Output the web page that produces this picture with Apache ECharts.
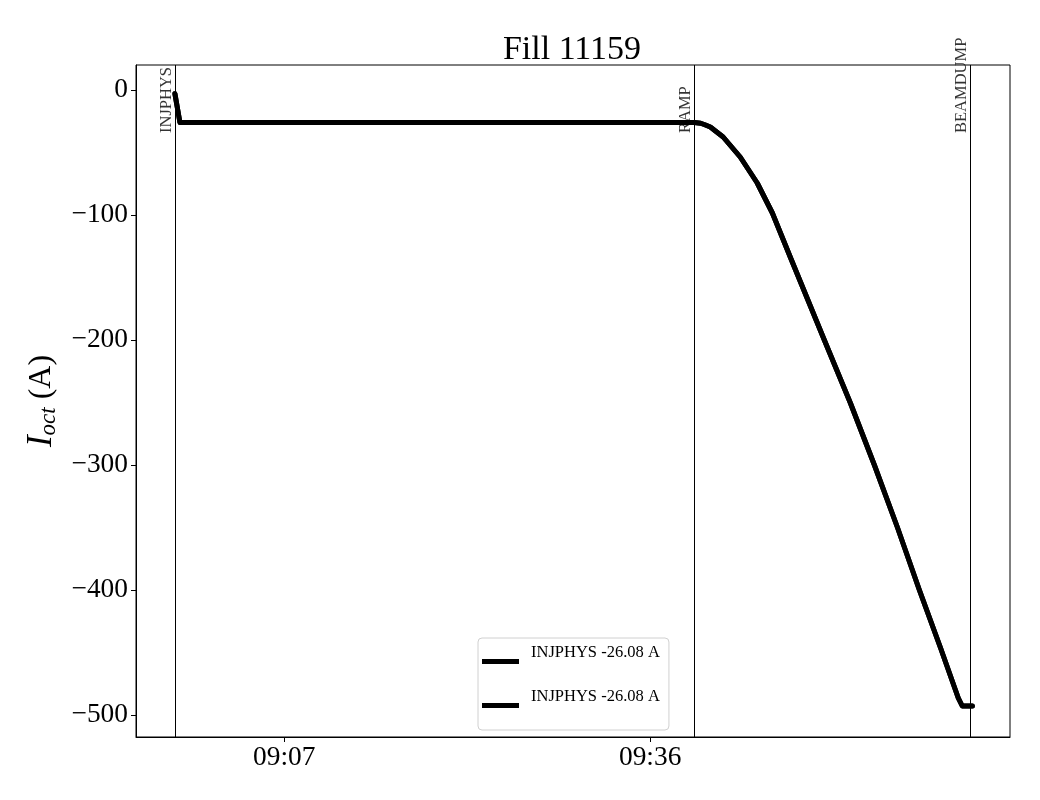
<!DOCTYPE html>
<html>
<head>
<meta charset="utf-8">
<script src="https://cdn.jsdelivr.net/npm/echarts@6/dist/echarts.min.js"></script>
<style>html,body{margin:0;padding:0;background:#fff}#c{width:1040px;height:800px}</style>
</head>
<body>
<div id="c"></div>
<script>
// ---- data ----
const times = ['08:58:20','08:58:44','09:39:29','09:40:00','09:40:20','09:40:46','09:41:47','09:43:08','09:44:29','09:45:41','09:47:06','09:49:48','09:51:52','09:53:46','09:55:35','09:57:20','09:59:00','10:00:25','10:00:44','10:01:32'];
const values = [-3,-26.08,-26.08,-26.6,-27.8,-29.6,-37.6,-53.6,-74.4,-98.4,-133.6,-200,-250.4,-300,-349.6,-400,-446,-486.4,-492.8,-492.8];
const seriesNames = ['INJPHYS -26.08 A', 'INJPHYS -26.08 A '];
const eventNames = ['INJPHYS','RAMP','BEAMDUMP'];
const eventTimes = ['08:58:20','09:39:29','10:01:23'];
const xTickTimes = ['09:07','09:36'];
const yTicks = [0,-100,-200,-300,-400,-500];
const xRange = ['08:55:15','10:04:31'];
const yRange = [-517.6, 20];
const titleText = 'Fill 11159';

// seconds since midnight
function ts(t){
  const p = t.split(':').map(Number);
  return p[0]*3600 + p[1]*60 + (p[2]||0);
}
const pts = times.map((t,i)=>[ts(t), values[i]]);
const FONT = '"Liberation Serif", "DejaVu Serif", serif';
const pad2 = n => (n<10?'0':'')+n;

const chart = echarts.init(document.getElementById('c'), null, {renderer:'canvas'});
const option = {
  animation: false,
  backgroundColor: '#fff',
  title: {
    text: titleText, left: 567, top: 28, textAlign: 'center',
    textStyle: {fontFamily: FONT, fontSize: 34, fontWeight: 'normal', color: '#000'}
  },
  grid: {left: 136, right: 30, top: 65, bottom: 63, show: true, borderColor: '#000', borderWidth: 1, backgroundColor: 'transparent'},
  legend: {
    data: seriesNames,
    left: 478, top: 638,
    orient: 'vertical',
    icon: 'rect',
    itemWidth: 37, itemHeight: 5, itemGap: 24,
    padding: [6, 5, 22, 4],
    backgroundColor: '#fff', borderColor: '#d0d0d0', borderWidth: 1, borderRadius: 4,
    formatter: n => '{a|' + n + '}',
    textStyle: {
      fontFamily: FONT, fontSize: 16.5, color: '#000',
      rich: {a: {fontFamily: FONT, fontSize: 16.5, color: '#000', padding: [0, 0, 18, 7]}}
    },
    itemStyle: {color: '#000'}
  },
  xAxis: {
    type: 'value',
    min: ts(xRange[0]), max: ts(xRange[1]),
    splitLine: {show: false},
    axisLine: {show: true, onZero: false, lineStyle: {color: '#000', width: 1}},
    axisTick: {show: true, inside: false, length: 5, lineStyle: {color: '#000'}, customValues: xTickTimes.map(t=>ts(t))},
    axisLabel: {
      fontFamily: FONT, fontSize: 27.4, color: '#000', margin: 7,
      customValues: xTickTimes.map(t=>ts(t)),
      formatter: v => pad2(Math.floor(v/3600)) + ':' + pad2(Math.floor((v%3600)/60))
    }
  },
  yAxis: {
    type: 'value',
    min: yRange[0], max: yRange[1],
    splitLine: {show: false},
    axisLine: {show: true, onZero: false, lineStyle: {color: '#000', width: 1}},
    axisTick: {show: true, inside: false, length: 5, lineStyle: {color: '#000'}, customValues: yTicks},
    axisLabel: {
      fontFamily: FONT, fontSize: 27.4, color: '#000', margin: 8,
      customValues: yTicks,
      formatter: v => v < 0 ? '\u2212' + Math.abs(v) : String(v)
    },
    name: '{i|I}{sub|oct}{n| (A)}',
    nameLocation: 'middle',
    nameGap: 74,
    nameRotate: 90,
    nameTextStyle: {
      fontFamily: FONT, color: '#000', fontSize: 32,
      rich: {
        i: {fontFamily: FONT, fontStyle: 'italic', fontSize: 35, color: '#000'},
        sub: {fontFamily: FONT, fontStyle: 'italic', fontSize: 23, color: '#000', padding: [14, 0, 0, 0]},
        n: {fontFamily: FONT, fontSize: 32, color: '#000'}
      }
    }
  },
  series: [
    {
      name: seriesNames[0], type: 'line', data: pts, showSymbol: false, symbol: 'none',
      smooth: false,
      lineStyle: {color: '#000', width: 5, join: 'round', cap: 'round'}, itemStyle: {color: '#000'},
      markLine: {
        silent: true, symbol: 'none',
        lineStyle: {color: '#000', width: 1, type: 'solid'},
        label: {show: false},
        data: eventTimes.map(t => ({xAxis: ts(t)}))
      },
      z: 3
    },
    {
      name: seriesNames[1], type: 'line', data: pts, showSymbol: false, symbol: 'none',
      smooth: false,
      lineStyle: {color: '#000', width: 5, join: 'round', cap: 'round'}, itemStyle: {color: '#000'},
      z: 3
    },
    {
      type: 'scatter', symbolSize: 0, silent: true,
      data: eventTimes.map((t,i)=>[ts(t), -33.6, eventNames[i]]),
      label: {
        show: true, position: 'inside', rotate: 90, align: 'left', verticalAlign: 'bottom',
        offset: [-1, 0],
        fontFamily: FONT, fontSize: 16.5, color: '#000',
        formatter: p => p.data[2]
      },
      z: 5
    }
  ]
};
chart.setOption(option);
</script>
</body>
</html>
